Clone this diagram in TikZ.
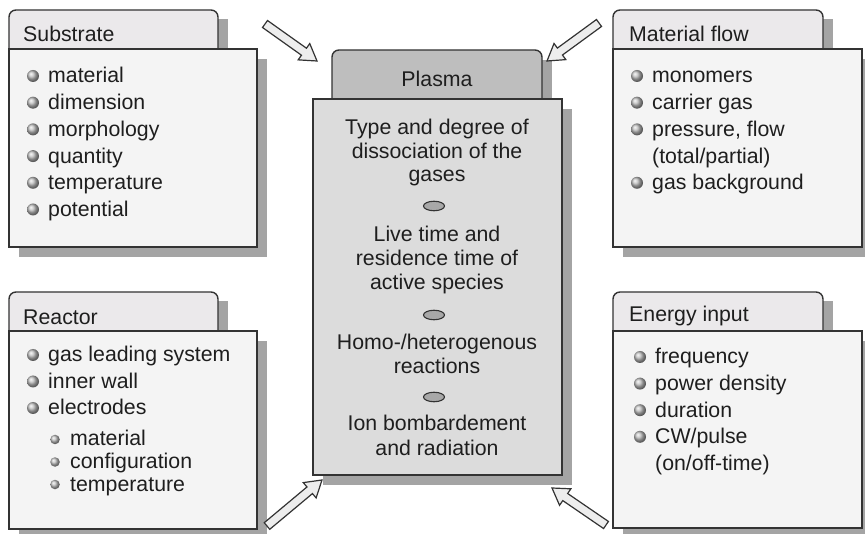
\documentclass[tikz,border=0pt]{standalone}
\usepackage{fontspec}
\setmainfont{Liberation Sans}
\usetikzlibrary{calc,shapes.geometric}
\definecolor{shadowgray}{HTML}{A4A4A4}
\definecolor{tabfill}{HTML}{EBE9EB}
\definecolor{bodyfill}{HTML}{F4F4F4}
\definecolor{ptabfill}{HTML}{BEBEBE}
\definecolor{pbodyfill}{HTML}{DCDCDC}
\definecolor{edgecol}{HTML}{333333}
\definecolor{ink}{HTML}{1E1E1E}
\definecolor{arrowfill}{HTML}{EDEDED}
\definecolor{sepfill}{HTML}{A8A8A8}

\newcommand{\blockarrow}[2]{%
 \draw[arrowstyle] let \p1=($(#2)-(#1)$), \n1={atan2(\y1,\x1)}, \n2={veclen(\x1,\y1)-16} in
   ($(#1)+({\n1+90}:4.3pt)$)
   -- ($(#1)+({\n1}:{\n2*1pt})+({\n1+90}:4.3pt)$)
   -- ($(#1)+({\n1}:{\n2*1pt})+({\n1+90}:10pt)$)
   -- (#2)
   -- ($(#1)+({\n1}:{\n2*1pt})+({\n1-90}:10pt)$)
   -- ($(#1)+({\n1}:{\n2*1pt})+({\n1-90}:4.3pt)$)
   -- ($(#1)+({\n1-90}:4.3pt)$) -- cycle;}

\begin{document}
\begin{tikzpicture}[x=1pt,y=-1pt,font=\fontsize{21.3}{25}\selectfont,
  boxline/.style={draw=edgecol,line width=1.4pt},
  shadowbox/.style={fill=shadowgray},
  arrowstyle/.style={draw=edgecol,line width=1.2pt,fill=arrowfill,line join=miter},
  txt/.style={anchor=base west,inner sep=0pt,text=ink},
  ctxt/.style={anchor=base,inner sep=0pt,text=ink},
  bul/.style={circle,shading=ball,ball color=gray!50,inner sep=0pt,minimum size=12pt},
  subbul/.style={circle,shading=ball,ball color=gray!50,inner sep=0pt,minimum size=9.5pt},
  sepmark/.style={ellipse,draw=edgecol,line width=1.1pt,fill=sepfill,inner sep=0pt,minimum width=21pt,minimum height=9.5pt}]
\useasboundingbox (0,0) rectangle (865,534);

% ---------- shadows ----------
\fill[shadowgray] (19,19) rectangle (228,59);
\fill[shadowgray] (19,59) rectangle (267,257);
\fill[shadowgray] (623,19) rectangle (833,59);
\fill[shadowgray] (623,59) rectangle (872,257);
\fill[shadowgray] (19,301) rectangle (228,341);
\fill[shadowgray] (19,341) rectangle (267,540);
\fill[shadowgray] (623,301) rectangle (833,341);
\fill[shadowgray] (623,341) rectangle (872,540);
\fill[shadowgray] (342,60) rectangle (552,109);
\fill[shadowgray] (323,109) rectangle (572,485);

% ---------- tabs ----------
\filldraw[boxline,fill=tabfill] (9,49) {[rounded corners=7pt] -- (9,10) -- (218,10)} -- (218,49) -- cycle;
\filldraw[boxline,fill=tabfill] (613,49) {[rounded corners=7pt] -- (613,10) -- (823,10)} -- (823,49) -- cycle;
\filldraw[boxline,fill=tabfill] (9,331) {[rounded corners=7pt] -- (9,292) -- (218,292)} -- (218,331) -- cycle;
\filldraw[boxline,fill=tabfill] (613,331) {[rounded corners=7pt] -- (613,292) -- (823,292)} -- (823,331) -- cycle;
\filldraw[boxline,fill=ptabfill] (332,99) {[rounded corners=7pt] -- (332,50) -- (542,50)} -- (542,99) -- cycle;

% ---------- bodies ----------
\filldraw[boxline,fill=bodyfill] (9,49) rectangle (257,247);
\filldraw[boxline,fill=bodyfill] (613,49) rectangle (862,247);
\filldraw[boxline,fill=bodyfill] (9,331) rectangle (257,529);
\filldraw[boxline,fill=bodyfill] (613,331) rectangle (862,528);
\filldraw[boxline,fill=pbodyfill] (313,99) rectangle (562,475);

% ---------- Substrate ----------
\node[txt] (subT) at (23,42) {Substrate};
\foreach \t [count=\i] in {material,dimension,morphology,quantity,temperature,potential}{
  \node[bul] (subB\i) at (33,{83+26.7*(\i-1)-7}) {};
  \node[txt] (subI\i) at (48,{83+26.7*(\i-1)}) {\t};
}

% ---------- Material flow ----------
\node[txt] (matT) at (629,42) {Material flow};
\node[bul] (matB1) at (637,76) {};
\node[txt] (matI1) at (652,83) {monomers};
\node[bul] (matB2) at (637,102.7) {};
\node[txt] (matI2) at (652,109.7) {carrier gas};
\node[bul] (matB3) at (637,129.4) {};
\node[txt] (matI3) at (652,136.4) {pressure, flow};
\node[txt] (matI3b) at (652,163.1) {(total/partial)};
\node[bul] (matB4) at (637,182.8) {};
\node[txt] (matI4) at (652,189.8) {gas background};

% ---------- Reactor ----------
\node[txt] (reaT) at (23,325) {Reactor};
\node[bul] (reaB1) at (33,355) {};
\node[txt] (reaI1) at (48,362) {gas leading system};
\node[bul] (reaB2) at (33,381.5) {};
\node[txt] (reaI2) at (48,388.5) {inner wall};
\node[bul] (reaB3) at (33,408) {};
\node[txt] (reaI3) at (48,415) {electrodes};
\node[subbul] (reaS1) at (55,439.5) {};
\node[txt] (reaJ1) at (70,446) {material};
\node[subbul] (reaS2) at (55,462) {};
\node[txt] (reaJ2) at (70,468.5) {configuration};
\node[subbul] (reaS3) at (55,484.5) {};
\node[txt] (reaJ3) at (70,491) {temperature};

% ---------- Energy input ----------
\node[txt] (enT) at (629,322) {Energy input};
\foreach \t [count=\i] in {frequency,power density,duration,CW/pulse}{
  \node[bul] (enB\i) at (640,{364+26.6*(\i-1)-7}) {};
  \node[txt] (enI\i) at (655,{364+26.6*(\i-1)}) {\t};
}
\node[txt] (enI4b) at (655,470.4) {(on/off-time)};

% ---------- Plasma ----------
\node[ctxt] (plT) at (437,87) {Plasma};
\node[ctxt] (pl1a) at (437,135) {Type and degree of};
\node[ctxt] (pl1b) at (437,158.5) {dissociation of the};
\node[ctxt] (pl1c) at (437,182) {gases};
\node[sepmark] (sep1) at (434,206) {};
\node[ctxt] (pl2a) at (437,242) {Live time and};
\node[ctxt] (pl2b) at (437,266) {residence time of};
\node[ctxt] (pl2c) at (437,290) {active species};
\node[sepmark] (sep2) at (434,315) {};
\node[ctxt] (pl3a) at (437,350) {Homo-/heterogenous};
\node[ctxt] (pl3b) at (437,373.5) {reactions};
\node[sepmark] (sep3) at (434,397) {};
\node[ctxt] (pl4a) at (437,431) {Ion bombardement};
\node[ctxt] (pl4b) at (437,455) {and radiation};

% ---------- block arrows ----------
\coordinate (a1t) at (265,24);  \coordinate (a1h) at (317,61);
\coordinate (a2t) at (599,23);  \coordinate (a2h) at (547,61);
\coordinate (a3t) at (267,526); \coordinate (a3h) at (322,480);
\coordinate (a4t) at (606,525); \coordinate (a4h) at (552,488);
\blockarrow{a1t}{a1h}
\blockarrow{a2t}{a2h}
\blockarrow{a3t}{a3h}
\blockarrow{a4t}{a4h}
\end{tikzpicture}
\end{document}
